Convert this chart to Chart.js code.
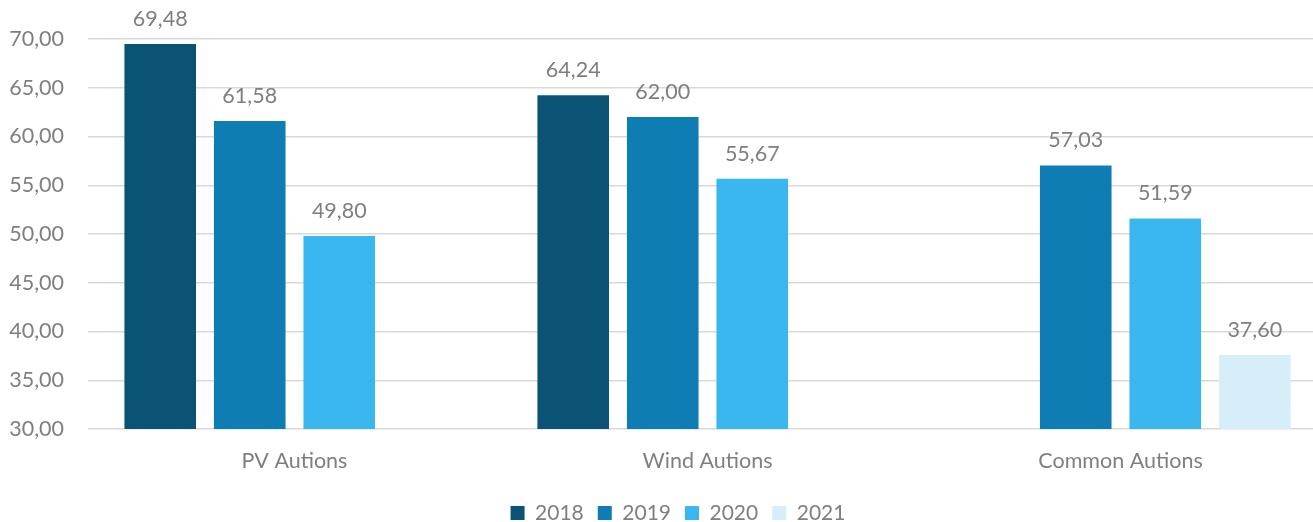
<!DOCTYPE html>
<html>
<head>
<meta charset="utf-8">
<script src="https://cdn.jsdelivr.net/npm/chart.js@4/dist/chart.umd.min.js"></script>
<style>
  html, body { margin: 0; padding: 0; background: #fff; overflow: hidden; }
  #wrap { width: 1356px; height: 522px; }
</style>
</head>
<body>
<div id="wrap"><canvas id="chart" width="1356" height="522"></canvas></div>
<script>
// Auction categories and yearly average prices
var categories = ["PV Autions", "Wind Autions", "Common Autions"];
var years = ["2018", "2019", "2020", "2021"];
var values2018 = [69.48, 64.24, null];
var values2019 = [61.58, 62.00, 57.03];
var values2020 = [49.80, 55.67, 51.59];
var values2021 = [null, null, 37.60];
var yTicks = [30, 35, 40, 45, 50, 55, 60, 65, 70];

var colors = ['#0b5374', '#0e7db4', '#3bb7f0', '#d6edfa'];
var series = [values2018, values2019, values2020, values2021];
var grey = '#7f7f7f';
var fontFamily = 'Lato, "Open Sans", sans-serif';

function fmt(v) {
    return v.toFixed(2).replace('.', ',');
}

// draws the value above each bar (no datalabels plugin offline)
var valueLabels = {
    id: 'valueLabels',
    afterDatasetsDraw: function (chart) {
        var ctx = chart.ctx;
        ctx.save();
        ctx.font = '21.5px ' + fontFamily;
        ctx.fillStyle = grey;
        ctx.textAlign = 'center';
        ctx.textBaseline = 'middle';
        chart.data.datasets.forEach(function (ds, i) {
            var meta = chart.getDatasetMeta(i);
            meta.data.forEach(function (bar, j) {
                var v = ds.data[j];
                if (v === null || v === undefined) return;
                ctx.fillText(fmt(v), bar.x, bar.y - 25);
            });
        });
        ctx.restore();
    }
};

// the legend in the original is centred a bit right of the plot
var legendShift = {
    id: 'legendShift',
    afterLayout: function (chart) {
        chart.legend.left += 14.5;
        chart.legend.right += 14.5;
    }
};

var datasets = years.map(function (y, i) {
    return {
        label: y,
        data: series[i],
        backgroundColor: colors[i],
        borderWidth: 0,
        barPercentage: 0.8,
        categoryPercentage: 0.867
    };
});

var chart = new Chart(document.getElementById('chart').getContext('2d'), {
    type: 'bar',
    data: {
        labels: categories,
        datasets: datasets
    },
    options: {
        responsive: false,
        animation: false,
        layout: {
            padding: { top: 39, right: 29, left: 0, bottom: -11.5 }
        },
        plugins: {
            legend: {
                position: 'bottom',
                labels: {
                    color: grey,
                    font: { family: fontFamily, size: 21 },
                    boxWidth: 14,
                    boxHeight: 14,
                    padding: 14
                }
            },
            tooltip: { enabled: false }
        },
        scales: {
            x: {
                grid: { display: false, drawTicks: false },
                border: { display: false },
                afterFit: function (scale) {
                    scale.height = 59.5;
                },
                ticks: {
                    color: grey,
                    font: { family: fontFamily, size: 21.5 },
                    padding: 19
                }
            },
            y: {
                min: 30,
                max: 70,
                afterBuildTicks: function (scale) {
                    scale.ticks = yTicks.map(function (v) { return { value: v }; });
                },
                afterFit: function (scale) {
                    scale.width = 88;
                },
                grid: { color: '#d9d9d9', lineWidth: 1.5, drawTicks: false },
                border: { display: false },
                ticks: {
                    color: grey,
                    font: { family: fontFamily, size: 21.5 },
                    padding: 24,
                    callback: function (v) { return fmt(v); }
                }
            }
        }
    },
    plugins: [valueLabels, legendShift]
});
</script>
</body>
</html>
